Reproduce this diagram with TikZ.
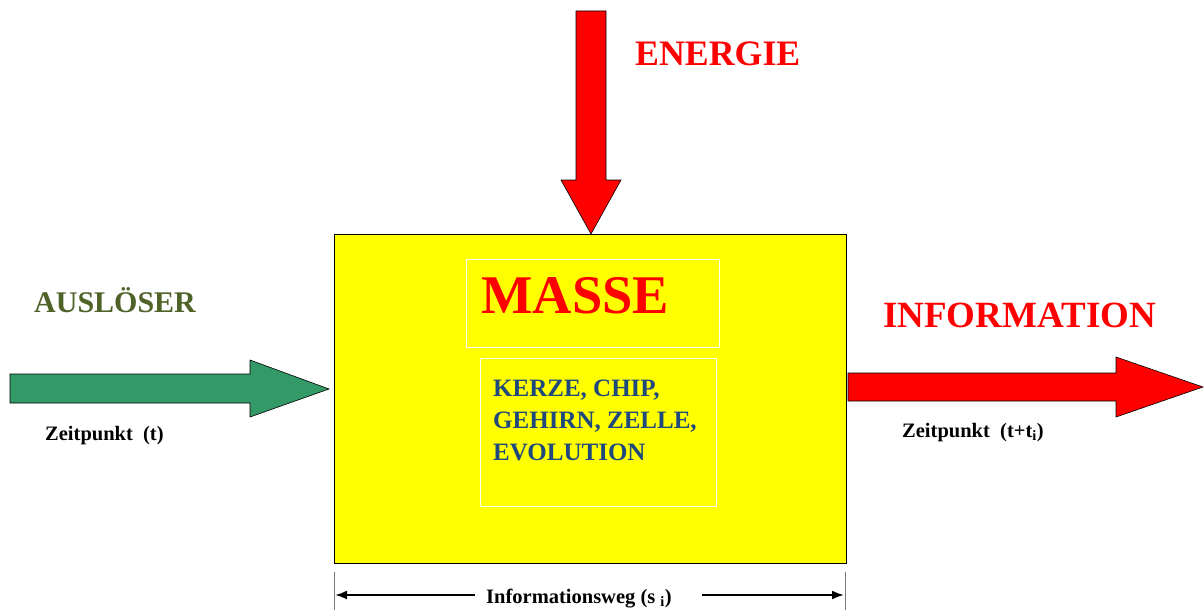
\documentclass[tikz,border=0pt]{standalone}
\usepackage{fontspec}
\setmainfont{Liberation Serif}
\usetikzlibrary{arrows.meta}
\definecolor{arrowgreen}{RGB}{51,153,102}
\definecolor{olivetext}{RGB}{79,98,40}
\definecolor{navytext}{RGB}{31,73,125}
\definecolor{barg}{RGB}{120,120,120}
\definecolor{blockyellow}{RGB}{255,255,0}
\definecolor{pured}{RGB}{255,0,0}
\tikzset{
  fatarrow/.style={draw=black, line width=0.6pt, line join=miter},
  bigtxt/.style={font=\bfseries\fontsize{37}{40}\selectfont, text=pured, inner sep=0pt, anchor=base west},
  smalltxt/.style={font=\bfseries\fontsize{20.5}{22}\selectfont, text=black, inner sep=0pt, anchor=base west},
  whitebox/.style={draw=white, line width=0.8pt, inner sep=0pt},
  measarrow/.style={line width=2pt, -{Latex[length=12pt,width=9pt]}},
}
\begin{document}
\begin{tikzpicture}[x=1pt,y=-1pt]
\useasboundingbox (0,0) rectangle (1204,610);
% yellow block
\node[draw=black, fill=blockyellow, line width=0.6pt, minimum width=512pt, minimum height=329pt, inner sep=0pt, anchor=north west] (block) at (334,234) {};
% white boxes
\node[whitebox, minimum width=253pt, minimum height=88pt, anchor=north west] (massebox) at (466,259) {};
\node[whitebox, minimum width=236pt, minimum height=148pt, anchor=north west] (listbox) at (480,358) {};
\node[font=\bfseries\fontsize{54.5}{60}\selectfont, text=pured, inner sep=0pt, anchor=base west] (masse) at (481,313) {MASSE};
\node[font=\bfseries\fontsize{25}{32}\selectfont, text=navytext, inner sep=0pt, anchor=base west] (k1) at (493,396) {KERZE, CHIP,};
\node[font=\bfseries\fontsize{25}{32}\selectfont, text=navytext, inner sep=0pt, anchor=base west] (k2) at (493,428) {GEHIRN, ZELLE,};
\node[font=\bfseries\fontsize{25}{32}\selectfont, text=navytext, inner sep=0pt, anchor=base west] (k3) at (493,460) {EVOLUTION};
% energy arrow
\draw[fatarrow, fill=pured] (576,11) -- (606,11) -- (606,180) -- (621,180) -- (591,234) -- (561,180) -- (576,180) -- cycle;
\node[bigtxt, font=\bfseries\fontsize{35.8}{40}\selectfont] (energie) at (635,66) {ENERGIE};
% trigger arrow
\draw[fatarrow, fill=arrowgreen] (10,374) -- (250,374) -- (250,360) -- (329,389) -- (250,417) -- (250,403) -- (10,403) -- cycle;
\node[bigtxt, font=\bfseries\fontsize{30}{34}\selectfont, text=olivetext] (ausl) at (34,312) {AUSLÖSER};
\node[smalltxt] (zt1) at (45,440) {Zeitpunkt~~(t)};
% information arrow
\draw[fatarrow, fill=pured] (848,373) -- (1116,373) -- (1116,357) -- (1203,387) -- (1116,417) -- (1116,401) -- (848,401) -- cycle;
\node[bigtxt] (info) at (883,327) {INFORMATION};
\node[smalltxt] (zt2) at (902,437) {Zeitpunkt~~(t+t\textsubscript{i})};
% information path
\coordinate (lb) at (335,595);
\coordinate (rb) at (844,595);
\coordinate (la) at (475,595);
\coordinate (ra) at (702,595);
\draw[barg, line width=0.8pt] (334,572) -- (334,610);
\draw[barg, line width=0.8pt] (845,572) -- (845,610);
\node[smalltxt] (weg) at (486,603) {Informationsweg (s \textsubscript{i})};
\draw[measarrow] (la) -- (lb);
\draw[measarrow] (ra) -- (rb);
\end{tikzpicture}
\end{document}
